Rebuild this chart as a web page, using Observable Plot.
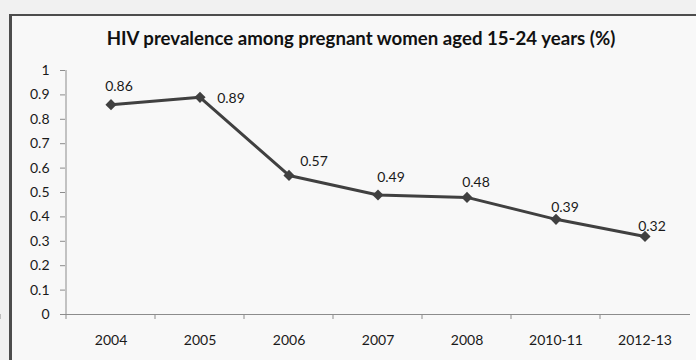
<!DOCTYPE html>
<html>
<head>
<meta charset="utf-8">
<script src="https://cdn.jsdelivr.net/npm/d3@7"></script>
<script src="https://cdn.jsdelivr.net/npm/@observablehq/plot@0.6"></script>
<style>
  html, body { margin: 0; padding: 0; background: #f1f1f1; }
  #wrap { position: relative; width: 696px; height: 360px; overflow: hidden; background: #f1f1f1; font-family: Lato, "Open Sans", sans-serif; }
  #frame { position: absolute; left: 9px; top: 14px; width: 760px; height: 420px; border-left: 3px solid #4d4d4d; border-top: 2px solid #4d4d4d; background: #f8f8f8; }
  #title { position: absolute; left: 0; width: 722px; top: 29px; text-align: center; font-weight: 700; font-size: 18px; line-height: 18px; color: #111; white-space: nowrap; }
  #title span { display: inline-block; }
  #chart { position: absolute; left: 0; top: 0; width: 696px; height: 360px; overflow: hidden; }
  #chart svg { background: transparent; display: block; }
</style>
</head>
<body>
<div id="wrap">
  <div id="frame"></div>
  <div id="title"><span id="titletext"></span></div>
  <div id="chart"></div>
</div>
<script>
const titleText = "HIV prevalence among pregnant women aged 15-24 years (%)";
const categories = ["2004", "2005", "2006", "2007", "2008", "2010-11", "2012-13"];
const values = [0.86, 0.89, 0.57, 0.49, 0.48, 0.39, 0.32];
const yTicks = [0, 0.1, 0.2, 0.3, 0.4, 0.5, 0.6, 0.7, 0.8, 0.9, 1];

// label placement (layout only)
const labelOffsets = [[8, -18], [31, 1], [25, -14], [13, -17], [9, -15], [9, -12], [7, -10]];

const rows = categories.map((c, i) => ({cat: c, value: values[i]}));

// fit title width
const tEl = document.getElementById("titletext");
tEl.textContent = titleText;
const w0 = tEl.getBoundingClientRect().width;
document.getElementById("title").style.fontSize = (18 * 509 / w0).toFixed(2) + "px";

const axisGray = "#8c8c8c";
const lineColor = "#404040";
const textColor = "#1a1a1a";

// band-edge ticks on x axis, computed from the band scale
function bandTicks(index, scales) {
  const g = d3.create("svg:g");
  const y0 = scales.y(0);
  const xs = categories.map(c => scales.x(c));
  xs.push(scales.x(categories[categories.length - 1]) + scales.x.bandwidth);
  for (const x of xs) {
    g.append("line").attr("x1", x).attr("x2", x).attr("y1", y0).attr("y2", y0 + 5)
      .attr("stroke", axisGray).attr("stroke-width", 1);
  }
  return g.node();
}

// vertical y-axis line at the left edge of the first band
function yAxisLine(index, scales) {
  const g = d3.create("svg:g");
  const x = scales.x(categories[0]);
  g.append("line").attr("x1", x).attr("x2", x)
    .attr("y1", scales.y(1)).attr("y2", scales.y(0))
    .attr("stroke", axisGray).attr("stroke-width", 1);
  return g.node();
}

const labelMarks = rows.map((r, i) => Plot.text([r], {
  x: "cat", y: "value", text: d => String(d.value),
  dx: labelOffsets[i][0], dy: labelOffsets[i][1], fontSize: 14, fill: textColor
}));

const chart = Plot.plot({
  width: 696, height: 360, marginLeft: 65, marginRight: 6, marginTop: 70, marginBottom: 46,
  style: { fontFamily: "Lato, 'Open Sans', sans-serif", fontSize: "14px", color: textColor, background: "transparent" },
  x: { type: "band", domain: categories, padding: 0, label: null, axis: null },
  y: { domain: [0, 1], label: null, axis: null },
  marks: [
    Plot.axisY({ ticks: yTicks, tickSize: 5, tickPadding: 11, stroke: axisGray, fill: textColor,
      tickFormat: d => String(+d.toFixed(1)), fontSize: 14, label: null }),
    Plot.ruleY([0], { stroke: axisGray, strokeWidth: 1 }),
    yAxisLine,
    bandTicks,
    Plot.axisX({ tickSize: 0, tickPadding: 21, fontSize: 14, fill: textColor, label: null }),
    Plot.line(rows, { x: "cat", y: "value", stroke: lineColor, strokeWidth: 3 }),
    Plot.dot(rows, { x: "cat", y: "value", symbol: "diamond2", r: 5, fill: lineColor, stroke: "none" }),
    ...labelMarks
  ]
});
document.getElementById("chart").appendChild(chart);
</script>
</body>
</html>
